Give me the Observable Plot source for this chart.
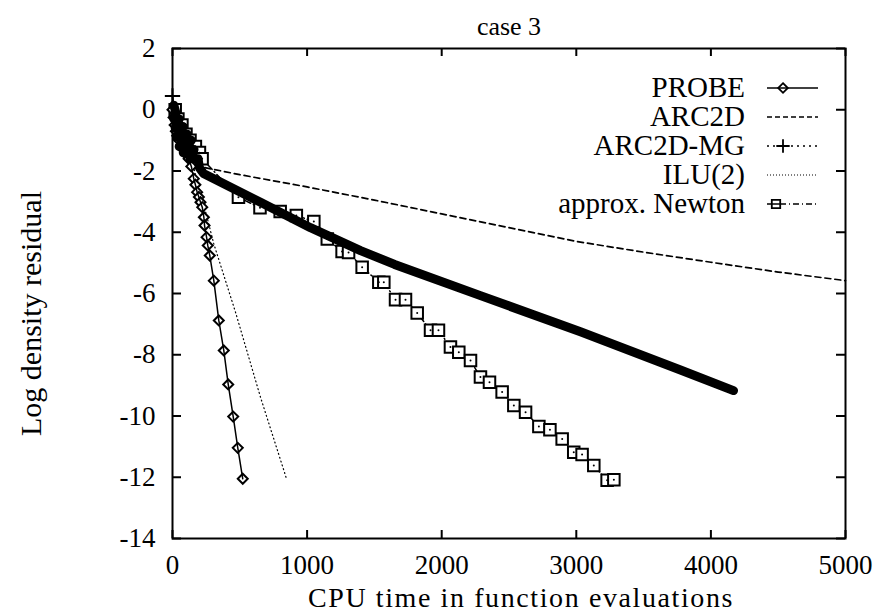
<!DOCTYPE html>
<html>
<head>
<meta charset="utf-8">
<script src="https://cdn.jsdelivr.net/npm/d3@7"></script>
<script src="https://cdn.jsdelivr.net/npm/@observablehq/plot@0.6"></script>
<style>
  html, body { margin: 0; padding: 0; background: #fff; }
  #chart { width: 880px; height: 613px; }
</style>
</head>
<body>
<div id="chart"></div>
<script>
// ---- data ----
const titleText = "case 3";
const xLabel = "CPU time in function evaluations";
const yLabel = "Log density residual";
const xTicks = [0, 1000, 2000, 3000, 4000, 5000];
const yTicks = [2, 0, -2, -4, -6, -8, -10, -12, -14];
const legendLabels = ["PROBE", "ARC2D", "ARC2D-MG", "ILU(2)", "approx. Newton"];

const probeX = [0, 8, 16, 25, 35, 50, 65, 80, 100, 120, 140, 158, 170, 183, 196, 208, 221, 233, 238, 253, 262, 277, 307, 344, 381, 414, 451, 485, 522];
const probeY = [0, -0.25, -0.5, -0.7, -0.85, -1.0, -1.15, -1.3, -1.45, -1.6, -1.85, -2.25, -2.45, -2.69, -2.85, -3.02, -3.18, -3.51, -3.78, -4.16, -4.43, -4.76, -5.58, -6.88, -7.86, -8.97, -10.02, -11.04, -12.05];

const arc2dX = [0, 50, 100, 150, 200, 230, 500, 1000, 1500, 2000, 2500, 3000, 3500, 4000, 4500, 5000];
const arc2dY = [0.1, -0.5, -1.0, -1.4, -1.75, -1.88, -2.12, -2.52, -2.95, -3.4, -3.85, -4.3, -4.65, -4.98, -5.3, -5.58];

// ARC2D-MG: start point, then the dense early cluster (back-and-forth iterates), then the band
const mgX = [0, 10, 25, 10, 50, 20, 80, 30, 110, 50, 140, 80, 160, 130, 190, 200, 230, 654, 1025, 1397, 1650, 2288, 3031, 3774, 4168];
const mgY = [0.45, 0.15, -0.1, -0.3, -0.3, -0.6, -0.55, -0.9, -0.8, -1.2, -1.0, -1.4, -1.3, -1.6, -1.6, -1.9, -2.08, -3.02, -3.85, -4.6, -5.05, -6.07, -7.25, -8.5, -9.17];

const iluX = [0, 30, 80, 140, 200, 250, 307, 468, 654, 845];
const iluY = [0, -0.5, -1.0, -1.6, -2.6, -3.4, -4.38, -6.61, -9.39, -12.02];

const newtonX = [20, 40, 70, 100, 130, 170, 200, 220, 490, 650, 800, 920, 1050, 1150, 1260, 1308, 1409, 1533, 1570, 1657, 1731, 1818, 1917, 1976, 2065, 2127, 2214, 2288, 2355, 2449, 2536, 2623, 2722, 2804, 2895, 2981, 3043, 3130, 3229, 3279];
const newtonY = [0.0, -0.3, -0.5, -0.8, -1.0, -1.2, -1.4, -1.6, -2.86, -3.2, -3.32, -3.45, -3.65, -4.22, -4.63, -4.66, -5.14, -5.63, -5.63, -6.2, -6.2, -6.64, -7.2, -7.2, -7.75, -7.92, -8.19, -8.73, -8.9, -9.22, -9.66, -9.88, -10.34, -10.45, -10.75, -11.18, -11.26, -11.62, -12.1, -12.08];

// ---- build tables ----
const zip = (xs, ys) => xs.map((x, i) => ({x, y: ys[i]}));
const probe = zip(probeX, probeY);
const arc2d = zip(arc2dX, arc2dY);
const mg = zip(mgX, mgY);
const ilu = zip(iluX, iluY);
const newton = zip(newtonX, newtonY);

const W = 880, H = 613;
const mL = 172, mR = 35, mT = 48, mB = 75;
const plotW = W - mL - mR, plotH = H - mT - mB;
const FONT = "'Liberation Serif', 'DejaVu Serif', serif";
const fmt = d => String(d);

const svg = Plot.plot({
  width: W, height: H,
  marginLeft: mL, marginRight: mR, marginTop: mT, marginBottom: mB,
  x: {domain: [0, 5000]},
  y: {domain: [-14, 2]},
  style: {fontFamily: FONT, fontSize: "27px", color: "black", background: "white", overflow: "visible"},
  marks: [
    // inward ticks on all four sides
    Plot.tickX(xTicks, {x: d => d, insetTop: plotH - 8, strokeWidth: 2}),
    Plot.tickX(xTicks, {x: d => d, insetBottom: plotH - 8, strokeWidth: 2}),
    Plot.tickY(yTicks, {y: d => d, insetRight: plotW - 9, strokeWidth: 2}),
    Plot.tickY(yTicks, {y: d => d, insetLeft: plotW - 9, strokeWidth: 2}),
    Plot.axisX(xTicks, {tickSize: 0, tickPadding: 16, tickFormat: fmt, fontSize: 27, label: null}),
    Plot.axisY(yTicks, {tickSize: 0, tickPadding: 17, tickFormat: fmt, fontSize: 27, label: null}),
    // ARC2D dashed
    Plot.line(arc2d, {x: "x", y: "y", stroke: "black", strokeWidth: 1.7, strokeDasharray: "6,4"}),
    // ILU(2) fine dotted
    Plot.line(ilu, {x: "x", y: "y", stroke: "black", strokeWidth: 1.2, strokeDasharray: "1,3"}),
    // approx. Newton dash-dot with squares
    Plot.line(newton, {x: "x", y: "y", stroke: "black", strokeWidth: 1.5, strokeDasharray: "6,3,1,3"}),
    Plot.dot(newton, {x: "x", y: "y", symbol: "square", r: 6.5, stroke: "black", strokeWidth: 2, fill: "white"}),
    Plot.dot(newton, {x: "x", y: "y", r: 1, fill: "black"}),
    // PROBE diamonds
    Plot.dot(probe, {x: "x", y: "y", symbol: "diamond2", r: 4.5, stroke: "black", strokeWidth: 2, fill: "white"}),
    // ARC2D-MG: dense + markers forming a thick band
    Plot.line(mg.slice(1), {x: "x", y: "y", stroke: "black", strokeWidth: 9, strokeLinejoin: "round", strokeLinecap: "round"}),
    Plot.line(mg.slice(0, 2), {x: "x", y: "y", stroke: "black", strokeWidth: 1.5}),
    Plot.dot(mg.slice(0, 1), {x: "x", y: "y", symbol: "plus", r: 5, stroke: "black", strokeWidth: 2}),
    // PROBE solid line
    Plot.line(probe, {x: "x", y: "y", stroke: "black", strokeWidth: 1.5}),
    Plot.frame({stroke: "black", strokeWidth: 2}),
    // titles
    Plot.text([titleText], {frameAnchor: "top", dy: -32, text: d => d, fontSize: 26}),
    Plot.text([yLabel], {frameAnchor: "left", textAnchor: "middle", dx: -141, dy: 20, rotate: -90, text: d => d, fontSize: 30}),
    Plot.text([xLabel], {frameAnchor: "bottom", dx: 12, dy: 68, text: d => d, fontSize: 28})
  ]
});

// stretch x label a little like the scan
d3.select(svg).selectAll("text").filter(function() { return this.textContent === xLabel; })
  .attr("letter-spacing", "1.6px");

// ---- legend (gnuplot style, inside top-right) ----
const lg = d3.select(svg).append("g")
  .attr("font-family", FONT).attr("font-size", 29).attr("fill", "black");
const textRight = 745, sx1 = 767, sx2 = 818, rowY0 = 88, rowStep = 29;
const sampleStyles = [
  {dash: null, width: 1.7, marker: "diamond", mx: 783},
  {dash: "5,3", width: 1.5, marker: null},
  {dash: "2,4", width: 1.3, marker: "plus", mx: 783},
  {dash: "1,2", width: 1.2, marker: null},
  {dash: "6,3,1,3", width: 1.4, marker: "square", mx: 776}
];
legendLabels.forEach((lab, i) => {
  const y = rowY0 + rowStep * i;
  const st = sampleStyles[i];
  lg.append("text").attr("x", textRight).attr("y", y).attr("dy", "0.32em")
    .attr("text-anchor", "end").text(lab);
  const ln = lg.append("line").attr("x1", sx1).attr("x2", sx2).attr("y1", y).attr("y2", y)
    .attr("stroke", "black").attr("stroke-width", st.width);
  if (st.dash) ln.attr("stroke-dasharray", st.dash);
  if (st.marker === "diamond") {
    lg.append("path").attr("d", d3.symbol(d3.symbolDiamond2, 60)())
      .attr("transform", `translate(${st.mx},${y})`).attr("fill", "white").attr("stroke", "black").attr("stroke-width", 1.8);
    lg.append("line").attr("x1", st.mx - 5).attr("x2", st.mx + 5).attr("y1", y).attr("y2", y).attr("stroke", "black").attr("stroke-width", 1.5);
  } else if (st.marker === "plus") {
    lg.append("path").attr("d", d3.symbol(d3.symbolPlus, 60)())
      .attr("transform", `translate(${st.mx},${y})`).attr("fill", "none").attr("stroke", "black").attr("stroke-width", 1.8);
  } else if (st.marker === "square") {
    lg.append("path").attr("d", d3.symbol(d3.symbolSquare2, 90)())
      .attr("transform", `translate(${st.mx},${y})`).attr("fill", "white").attr("stroke", "black").attr("stroke-width", 1.8);
    lg.append("line").attr("x1", st.mx - 5).attr("x2", st.mx + 5).attr("y1", y).attr("y2", y).attr("stroke", "black").attr("stroke-width", 1.5);
  }
});

document.getElementById("chart").appendChild(svg);
</script>
</body>
</html>
